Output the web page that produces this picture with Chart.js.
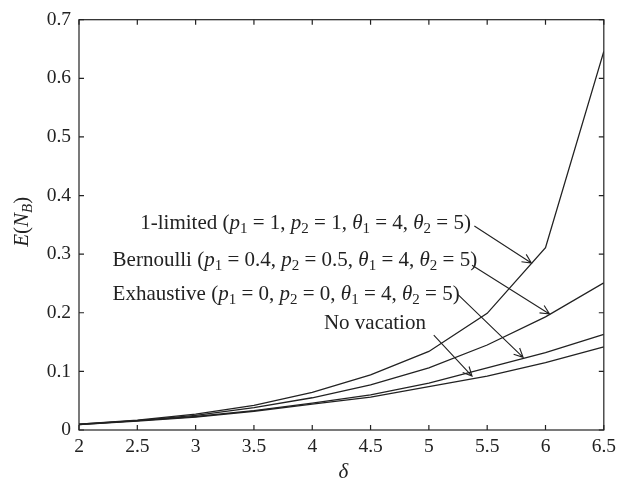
<!DOCTYPE html>
<html>
<head>
<meta charset="utf-8">
<script src="https://cdn.jsdelivr.net/npm/chart.js@4.4.1/dist/chart.umd.min.js"></script>
<style>
body { margin: 0; background: #fff; }
#wrap { position: relative; width: 621px; height: 493px; }
</style>
</head>
<body>
<div id="wrap"><canvas id="myChart"></canvas></div>
<script>
// values
var delta = [2, 2.5, 3, 3.5, 4, 4.5, 5, 5.5, 6, 6.5];
var limited = [0.010, 0.017, 0.027, 0.042, 0.064, 0.094, 0.134, 0.199, 0.311, 0.646];
var bernoulli = [0.010, 0.016, 0.025, 0.038, 0.055, 0.077, 0.106, 0.145, 0.193, 0.251];
var exhaustive = [0.009, 0.016, 0.023, 0.033, 0.046, 0.060, 0.080, 0.106, 0.132, 0.163];
var noVacation = [0.009, 0.015, 0.022, 0.032, 0.044, 0.056, 0.074, 0.092, 0.115, 0.142];

var xTicks = [2, 2.5, 3, 3.5, 4, 4.5, 5, 5.5, 6, 6.5];
var yTicks = [0, 0.1, 0.2, 0.3, 0.4, 0.5, 0.6, 0.7];

var FONT = "Liberation Serif";
var INK = "#222";
var NOTE_SIZE = 21;

// label text pieces: [text, style]  style: "" normal, "i" italic, "s" subscript, "is" italic subscript
function params(a, b) {
	return [["(", ""], ["p", "i"], ["1", "s"], [" = " + a + ", ", ""], ["p", "i"], ["2", "s"], [" = " + b + ", ", ""],
		["\u03b8", "i"], ["1", "s"], [" = 4, ", ""], ["\u03b8", "i"], ["2", "s"], [" = 5)", ""]];
}

// annotation: text start + arrow tail/head, all in data units
var notes = [
	{ text: [["1-limited ", ""]].concat(params(1, 1)), x: 2.525, y: 0.353, tail: [5.39, 0.348], head: [5.879, 0.285] },
	{ text: [["Bernoulli ", ""]].concat(params(0.4, 0.5)), x: 2.288, y: 0.290, tail: [5.37, 0.281], head: [6.034, 0.198] },
	{ text: [["Exhaustive ", ""]].concat(params(0, 0)), x: 2.288, y: 0.2316, tail: [5.25, 0.231], head: [5.808, 0.124] },
	{ text: [["No vacation", ""]], x: 4.10, y: 0.181, tail: [5.042, 0.162], head: [5.37, 0.092] }
];

function setFont(ctx, st, size) {
	var sub = st.indexOf("s") >= 0;
	var it = st.indexOf("i") >= 0;
	ctx.font = (it ? "italic " : "") + (sub ? Math.round(size * 0.7) : size) + "px " + FONT;
	return sub ? size * 0.28 : 0;
}

function drawRich(ctx, segs, x, y, size) {
	ctx.textBaseline = "middle";
	ctx.textAlign = "left";
	for (var i = 0; i < segs.length; i++) {
		var dy = setFont(ctx, segs[i][1], size);
		ctx.fillText(segs[i][0], x, y + dy);
		x += ctx.measureText(segs[i][0]).width;
	}
	return x;
}

function richWidth(ctx, segs, size) {
	var w = 0;
	for (var i = 0; i < segs.length; i++) {
		setFont(ctx, segs[i][1], size);
		w += ctx.measureText(segs[i][0]).width;
	}
	return w;
}

var decor = {
	id: "decor",
	afterDraw: function (chart) {
		var ctx = chart.ctx, a = chart.chartArea;
		var xs = chart.scales.x, ys = chart.scales.y;
		ctx.save();
		ctx.strokeStyle = INK;
		ctx.fillStyle = INK;
		ctx.lineWidth = 1.2;
		ctx.strokeRect(a.left, a.top, a.right - a.left, a.bottom - a.top);
		// inward ticks on every side
		ctx.beginPath();
		xTicks.forEach(function (v) {
			var px = xs.getPixelForValue(v);
			ctx.moveTo(px, a.bottom); ctx.lineTo(px, a.bottom - 5);
			ctx.moveTo(px, a.top); ctx.lineTo(px, a.top + 5);
		});
		yTicks.forEach(function (v) {
			var py = ys.getPixelForValue(v);
			ctx.moveTo(a.left, py); ctx.lineTo(a.left + 5, py);
			ctx.moveTo(a.right, py); ctx.lineTo(a.right - 5, py);
		});
		ctx.stroke();

		// annotations
		ctx.lineWidth = 1.1;
		notes.forEach(function (n) {
			drawRich(ctx, n.text, xs.getPixelForValue(n.x), ys.getPixelForValue(n.y), NOTE_SIZE);
			var x0 = xs.getPixelForValue(n.tail[0]), y0 = ys.getPixelForValue(n.tail[1]);
			var x1 = xs.getPixelForValue(n.head[0]), y1 = ys.getPixelForValue(n.head[1]);
			var ang = Math.atan2(y1 - y0, x1 - x0);
			ctx.beginPath();
			ctx.moveTo(x0, y0); ctx.lineTo(x1, y1);
			ctx.moveTo(x1 - 10 * Math.cos(ang - 0.45), y1 - 10 * Math.sin(ang - 0.45));
			ctx.lineTo(x1, y1);
			ctx.lineTo(x1 - 10 * Math.cos(ang + 0.45), y1 - 10 * Math.sin(ang + 0.45));
			ctx.stroke();
		});

		// axis titles
		ctx.font = "italic 21px " + FONT;
		ctx.textAlign = "center";
		ctx.textBaseline = "middle";
		ctx.fillText("\u03b4", (a.left + a.right) / 2 + 2, 472);

		var ytitle = [["E", "i"], ["(", ""], ["N", "i"], ["B", "is"], [")", ""]];
		ctx.translate(22, (a.top + a.bottom) / 2 - 3);
		ctx.rotate(-Math.PI / 2);
		var w = richWidth(ctx, ytitle, 21);
		drawRich(ctx, ytitle, -w / 2, 0, 21);
		ctx.restore();
	}
};

window.onload = function () {
	var ctx = document.getElementById("myChart").getContext("2d");
	var series = [limited, bernoulli, exhaustive, noVacation];
	var myChart = new Chart(ctx, {
		type: "line",
		data: {
			datasets: series.map(function (s) {
				return {
					data: delta.map(function (d, i) { return { x: d, y: s[i] }; }),
					borderColor: INK,
					borderWidth: 1.3,
					pointRadius: 0,
					tension: 0,
					fill: false,
				};
			}),
		},
		options: {
			responsive: true,
			maintainAspectRatio: false,
			animation: false,
			layout: { padding: { top: 12, right: 11, left: 0, bottom: 0 } },
			plugins: { legend: { display: false }, tooltip: { enabled: false } },
			scales: {
				x: {
					type: "linear",
					min: 2,
					max: 6.5,
					afterBuildTicks: function (s) { s.ticks = xTicks.map(function (v) { return { value: v }; }); },
					afterFit: function (s) { s.height = 63; },
					grid: { display: false, drawTicks: false },
					border: { display: false },
					ticks: { color: INK, font: { family: FONT, size: 19.5 }, padding: 5, maxRotation: 0, autoSkip: false,
						callback: function (v) { return String(v); } },
				},
				y: {
					min: 0,
					max: 0.7,
					afterBuildTicks: function (s) { s.ticks = yTicks.map(function (v) { return { value: v }; }); },
					afterFit: function (s) { s.width = 79; },
					grid: { display: false, drawTicks: false },
					border: { display: false },
					ticks: { color: INK, font: { family: FONT, size: 19.5 }, padding: 8, autoSkip: false,
						callback: function (v) { return String(v); } },
				},
			},
		},
		plugins: [decor],
	});
};
</script>
</body>
</html>
